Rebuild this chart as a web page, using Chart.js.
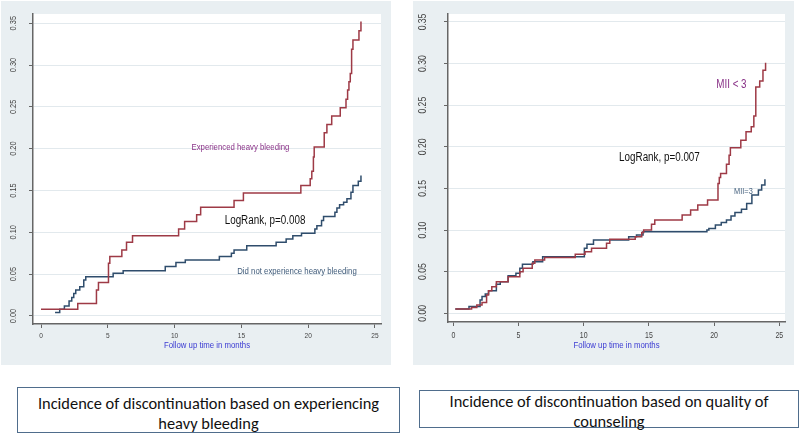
<!DOCTYPE html>
<html>
<head>
<meta charset="utf-8">
<script src="https://cdn.jsdelivr.net/npm/chart.js@4.4.1/dist/chart.umd.min.js"></script>
<style>
  html, body { margin: 0; padding: 0; background: #ffffff; }
  body { width: 800px; height: 433px; position: relative; overflow: hidden; }
  .panel { position: absolute; background: #e9eff2; }
  .panel canvas { position: absolute; left: 0; top: 0; }
  .box { position: absolute; box-sizing: border-box; border: 1px solid #4f6d8c; background: #fff;
         text-align: center; color: #111; font-family: 'Carlito', 'Lato', 'Open Sans', sans-serif;
         font-size: 16.4px; line-height: 19.5px; white-space: nowrap; }
</style>
</head>
<body>
<div class="panel" style="left:1px;top:1px;width:390px;height:364px"><canvas id="c1" width="390" height="364"></canvas></div>
<div class="panel" style="left:413px;top:1px;width:381px;height:364px"><canvas id="c2" width="381" height="364"></canvas></div>
<div class="box" style="left:17px;top:387px;width:383px;height:46px;padding-top:6px">Incidence of discontinuation based on experiencing<br>heavy bleeding</div>
<div class="box" style="left:419px;top:390px;width:380px;height:38px;padding-top:1px">Incidence of discontinuation based on quality of<br>counseling</div>
<script>
// ---------------- data ----------------
const xTickLabels = ['0', '5', '10', '15', '20', '25'];
const yTickLabels = ['0.00', '0.05', '0.10', '0.15', '0.20', '0.25', '0.30', '0.35'];
const xTitle = 'Follow up time in months';

// Panel 1: experienced heavy bleeding vs not
const timeHeavy = [0, 2.75, 4.15, 4.3, 5.05, 5.15, 6.05, 6.4, 6.85, 10.3, 10.75, 11.65, 11.95, 14.45, 15.15, 19.45, 20.15, 20.27, 20.39, 20.45, 21.2, 21.4, 21.76, 22.4, 22.83, 22.95, 23.05, 23.15, 23.25, 23.35, 23.8, 23.95];
const cumHeavy  = [0.008, 0.015, 0.031, 0.040, 0.063, 0.071, 0.079, 0.088, 0.096, 0.104, 0.113, 0.121, 0.130, 0.138, 0.147, 0.156, 0.164, 0.173, 0.190, 0.202, 0.219, 0.229, 0.239, 0.249, 0.259, 0.270, 0.280, 0.290, 0.319, 0.330, 0.341, 0.352];

const timeNoHeavy = [1.05, 1.4, 1.75, 2.1, 2.3, 2.45, 2.6, 2.9, 3.2, 3.35, 5.4, 6.15, 9.3, 10.1, 10.8, 13.35, 14.25, 14.45, 15.4, 17.6, 18.35, 18.85, 19.5, 20.5, 20.65, 21.0, 21.15, 22.0, 22.15, 22.35, 22.65, 22.9, 23.2, 23.35, 23.75, 23.95];
const cumNoHeavy  = [0.004, 0.008, 0.012, 0.018, 0.022, 0.027, 0.031, 0.035, 0.043, 0.047, 0.051, 0.054, 0.059, 0.064, 0.067, 0.071, 0.075, 0.079, 0.084, 0.088, 0.092, 0.096, 0.099, 0.104, 0.108, 0.114, 0.119, 0.124, 0.129, 0.133, 0.136, 0.140, 0.148, 0.156, 0.161, 0.168];

// Panel 2: quality of counseling (MII < 3 vs MII = 3)
const timeMIILow = [0.15, 1.4, 1.8, 2.2, 2.55, 2.7, 2.95, 3.3, 4.2, 5.1, 5.35, 6.05, 6.25, 7.0, 9.35, 10.1, 10.6, 11.75, 12.0, 13.95, 14.45, 14.6, 15.2, 15.45, 17.55, 18.2, 18.75, 19.5, 20.3, 20.4, 20.5, 20.95, 21.15, 21.25, 22.05, 22.45, 22.85, 23.05, 23.2, 23.5, 23.75, 23.95];
const cumMIILow  = [0.005, 0.007, 0.010, 0.013, 0.022, 0.027, 0.032, 0.038, 0.044, 0.050, 0.054, 0.060, 0.064, 0.067, 0.071, 0.074, 0.078, 0.084, 0.089, 0.092, 0.097, 0.100, 0.107, 0.112, 0.118, 0.124, 0.130, 0.136, 0.156, 0.163, 0.168, 0.179, 0.190, 0.199, 0.208, 0.218, 0.224, 0.237, 0.272, 0.279, 0.292, 0.301];

const timeMII3 = [0.15, 1.2, 2.05, 2.2, 2.45, 2.7, 3.3, 3.6, 4.2, 4.8, 5.1, 5.3, 6.1, 6.85, 10.05, 10.25, 10.75, 13.45, 14.05, 14.55, 19.45, 19.6, 20.1, 20.55, 20.95, 21.3, 21.6, 22.1, 22.5, 22.9, 23.4, 23.65, 23.9];
const cumMII3  = [0.005, 0.008, 0.016, 0.020, 0.023, 0.027, 0.035, 0.038, 0.045, 0.048, 0.054, 0.059, 0.062, 0.068, 0.078, 0.083, 0.088, 0.092, 0.094, 0.098, 0.100, 0.102, 0.106, 0.109, 0.112, 0.117, 0.121, 0.125, 0.132, 0.142, 0.148, 0.154, 0.161];

// ---------------- styling ----------------
const RED = '#9e3a46';
const BLUE = '#2f4d6c';
const FONT = "'Liberation Sans', Arial, sans-serif";
const SQUEEZE = 0.82;   // emulate a condensed (narrow) face

function pts(t, v) { return t.map((x, i) => ({ x: x, y: v[i] })); }

function narrowText(ctx, text, x, y, size, color, rot) {
  ctx.save();
  ctx.translate(x, y);
  if (rot) ctx.rotate(rot);
  ctx.scale(SQUEEZE, 1);
  ctx.font = size + 'px ' + FONT;
  ctx.fillStyle = color;
  ctx.textAlign = 'center';
  ctx.textBaseline = 'middle';
  ctx.fillText(text, 0, 0);
  ctx.restore();
}

function stataPlugin(cfg) {
  return {
    id: 'stata_' + cfg.id,
    beforeDraw(chart) {
      const { ctx, chartArea: a } = chart;
      ctx.save();
      ctx.fillStyle = '#ffffff';
      ctx.fillRect(a.left, a.top, a.right - a.left, a.bottom - a.top);
      ctx.restore();
    },
    afterDraw(chart) {
      const { ctx } = chart;
      const ys = chart.scales.y, xs = chart.scales.x;
      ys.ticks.forEach((t, i) => {
        narrowText(ctx, yTickLabels[i], cfg.yLabelX, ys.getPixelForValue(t.value), cfg.yFont, '#444', -Math.PI / 2);
      });
      xs.ticks.forEach((t, i) => {
        narrowText(ctx, xTickLabels[i], xs.getPixelForValue(t.value), cfg.xLabelY, cfg.xFont, '#444', 0);
      });
      narrowText(ctx, xTitle, (xs.left + xs.right) / 2, cfg.titleY, 9.5, '#3a3ad2', 0);
      cfg.notes.forEach(n => {
        narrowText(ctx, n.text, xs.getPixelForValue(n.t), ys.getPixelForValue(n.v), n.size, n.color, 0);
      });
    }
  };
}

function makeChart(id, series, ax, cfg) {
  new Chart(document.getElementById(id), {
    type: 'line',
    data: {
      datasets: series.map(s => ({
        data: pts(s.t, s.v), borderColor: s.color, borderWidth: 1.5,
        stepped: true, pointRadius: 0, fill: false, tension: 0
      }))
    },
    options: {
      responsive: false, animation: false, events: [],
      layout: { padding: { left: 0, top: 13, right: ax.padRight, bottom: 0 } },
      plugins: { legend: { display: false }, tooltip: { enabled: false } },
      scales: {
        x: {
          type: 'linear', min: ax.xmin, max: ax.xmax,
          ticks: { stepSize: 5, includeBounds: false, display: false },
          grid: { drawOnChartArea: false, drawTicks: true, tickLength: 4, tickColor: '#666' },
          border: { display: true, color: '#666', width: 1.5 },
          afterFit: s => { s.height = ax.xHeight; }
        },
        y: {
          type: 'linear', min: ax.ymin, max: ax.ymax,
          ticks: { stepSize: 0.05, includeBounds: false, display: false },
          grid: { color: '#e2e9ed', lineWidth: 1, drawTicks: true, tickLength: 4, tickColor: '#666' },
          border: { display: true, color: '#666', width: 1.5 },
          afterFit: s => { s.width = ax.yWidth; }
        }
      }
    },
    plugins: [stataPlugin(cfg)]
  });
}

makeChart('c1',
  [{ t: timeHeavy, v: cumHeavy, color: RED }, { t: timeNoHeavy, v: cumNoHeavy, color: BLUE }],
  { xmin: -0.6, xmax: 25.45, ymin: -0.0096, ymax: 0.361, padRight: 10, xHeight: 41, yWidth: 32 },
  { id: 'a', yLabelX: 13, yFont: 9, xLabelY: 335, xFont: 8, titleY: 344,
    notes: [
      { text: 'Experienced heavy bleeding', t: 14.93, v: 0.202, size: 9.5, color: '#8a3388' },
      { text: 'LogRank, p=0.008', t: 16.77, v: 0.1137, size: 12, color: '#111' },
      { text: 'Did not experience heavy bleeding', t: 19.16, v: 0.0539, size: 9.5, color: '#3e5a79' }
    ] });

makeChart('c2',
  [{ t: timeMIILow, v: cumMIILow, color: RED }, { t: timeMII3, v: cumMII3, color: BLUE }],
  { xmin: -0.41, xmax: 25.44, ymin: -0.0105, ymax: 0.3596, padRight: 9, xHeight: 43, yWidth: 35 },
  { id: 'b', yLabelX: 10.3, yFont: 10.5, xLabelY: 334.5, xFont: 8.5, titleY: 344.5,
    notes: [
      { text: 'MII < 3', t: 21.33, v: 0.2743, size: 12, color: '#8a3388' },
      { text: 'LogRank, p=0.007', t: 15.81, v: 0.1874, size: 12, color: '#111' },
      { text: 'MII=3', t: 22.25, v: 0.146, size: 9, color: '#4a6581' }
    ] });
</script>
</body>
</html>
